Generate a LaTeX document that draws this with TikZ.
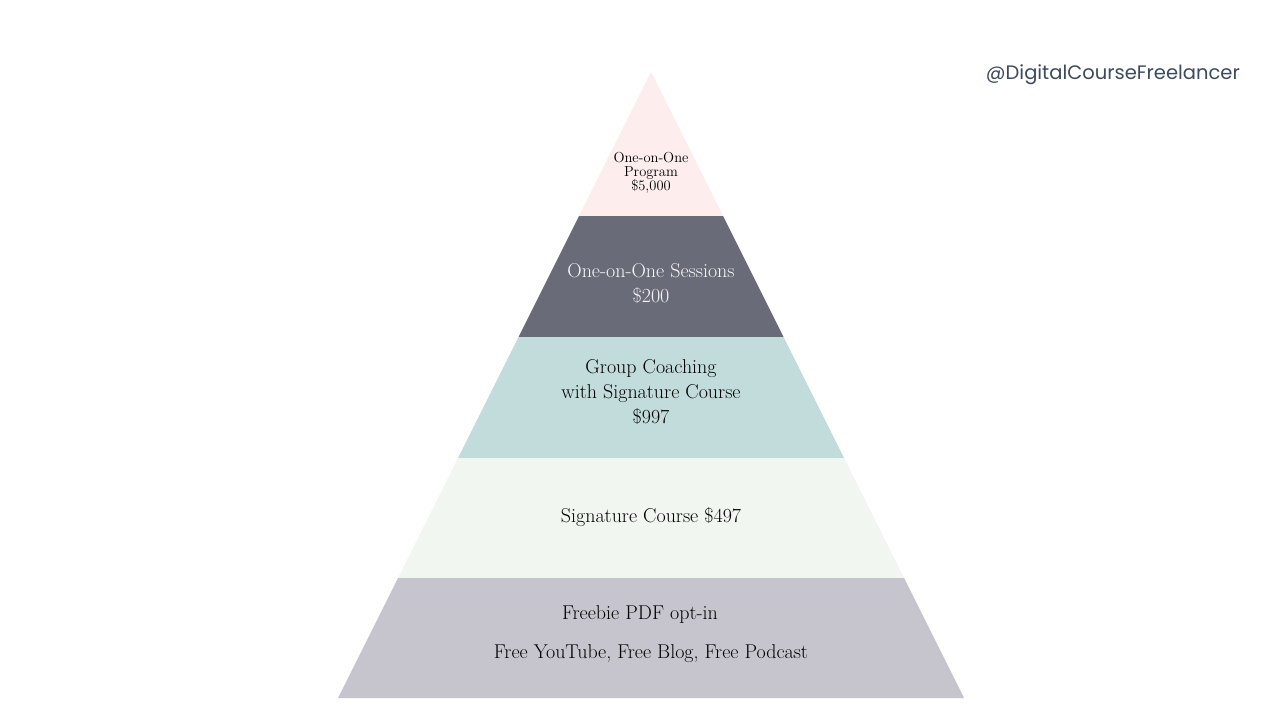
\documentclass[tikz,border=0pt]{standalone}
\usepackage{fontspec}
\newfontfamily\handlefont{Poppins}
\definecolor{cPink}{HTML}{FDEDED}
\definecolor{cSlate}{HTML}{6A6B78}
\definecolor{cTeal}{HTML}{C1DCDB}
\definecolor{cMint}{HTML}{F1F6F1}
\definecolor{cGrey}{HTML}{C6C5CE}
\definecolor{cHandle}{HTML}{3D4A5C}
\definecolor{cLight}{HTML}{F7F7F9}
\tikzset{
  lbl/.style={align=center, font=\fontsize{20}{25}\selectfont, text=black, inner sep=0pt},
  lblsmall/.style={align=center, font=\fontsize{14.5}{14}\selectfont, text=black, inner sep=0pt},
}
\begin{document}
\begin{tikzpicture}[x=1pt,y=-1pt]
\useasboundingbox (0,0) rectangle (1280,720);
\fill[white] (0,0) rectangle (1280,720);
% pyramid bands (half-width = 0.5*(y-72))
\fill[cPink]  (651,72) -- (723,216) -- (579,216) -- cycle;
\fill[cSlate] (579,216) -- (723,216) -- (783.5,337) -- (518.5,337) -- cycle;
\fill[cTeal]  (518.5,337) -- (783.5,337) -- (844,458) -- (458,458) -- cycle;
\fill[cMint]  (458,458) -- (844,458) -- (904,578) -- (398,578) -- cycle;
\fill[cGrey]  (398,578) -- (904,578) -- (964,698) -- (338,698) -- cycle;
% labels
\node[lblsmall] (t1) at (651,173) {One-on-One\\Program\\\$5,000};
\node[lbl, text=cLight] (t2) at (651,284) {One-on-One Sessions\\\$200};
\node[lbl] (t3) at (651,392) {Group Coaching\\with Signature Course\\\$997};
\node[lbl] (t4) at (651,517) {Signature Course \$497};
\node[lbl] (t5a) at (640,615) {Freebie PDF opt-in};
\node[lbl] (t5b) at (651,654) {Free YouTube, Free Blog, Free Podcast};
% handle
\node[font=\handlefont\fontsize{19.5}{22}\selectfont, text=cHandle, anchor=east, inner sep=0pt] (handle) at (1240,75) {@DigitalCourseFreelancer};
\end{tikzpicture}
\end{document}
